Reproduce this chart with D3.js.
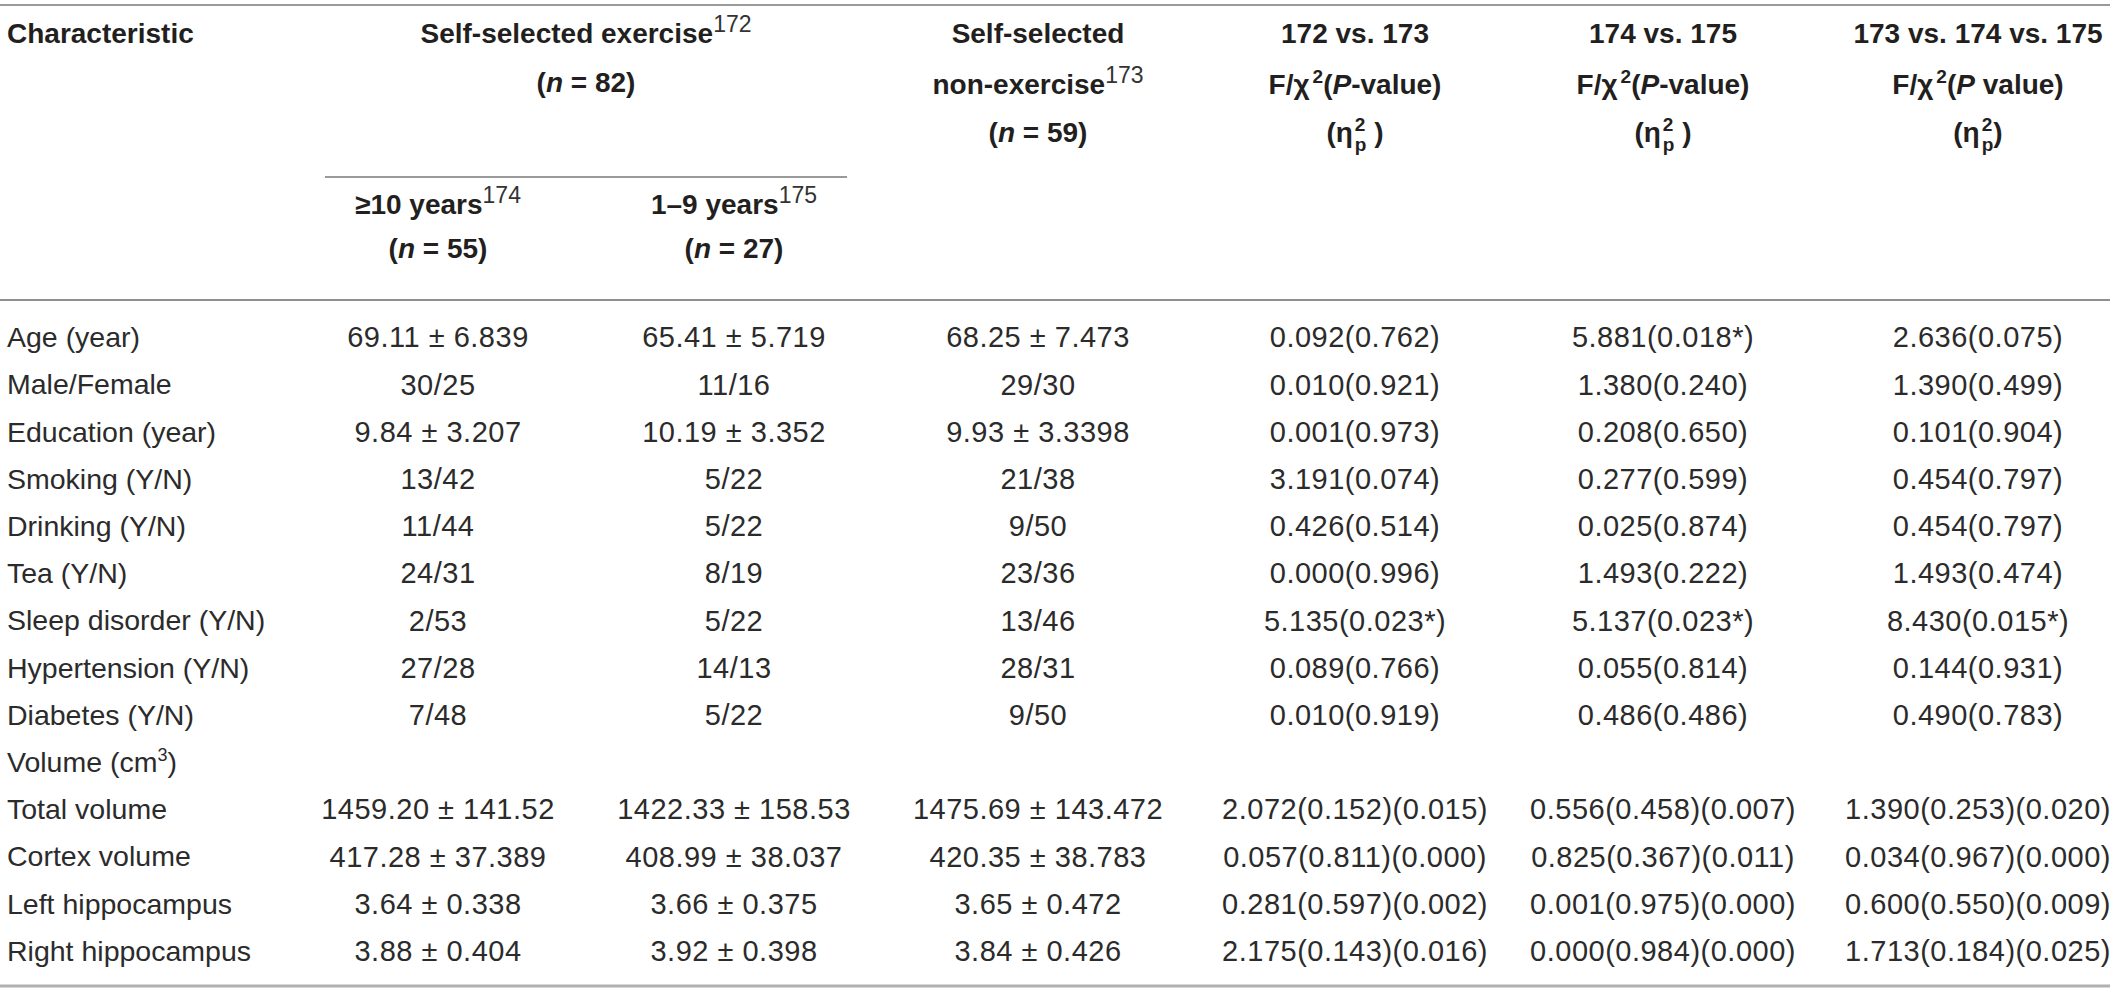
<!DOCTYPE html>
<html><head><meta charset="utf-8">
<script src="https://cdn.jsdelivr.net/npm/d3@7/dist/d3.min.js"></script>
<style>html,body{margin:0;padding:0;background:#fff}svg{display:block}</style>
</head><body>
<svg id="chart" width="2118" height="993"></svg>
<script>
// ---------- data ----------
const characteristics = ["Age (year)", "Male/Female", "Education (year)", "Smoking (Y/N)", "Drinking (Y/N)",
  "Tea (Y/N)", "Sleep disorder (Y/N)", "Hypertension (Y/N)", "Diabetes (Y/N)", "Volume (cm³)",
  "Total volume", "Cortex volume", "Left hippocampus", "Right hippocampus"];
const exercise10y = ["69.11 ± 6.839", "30/25", "9.84 ± 3.207", "13/42", "11/44", "24/31", "2/53", "27/28", "7/48", "",
  "1459.20 ± 141.52", "417.28 ± 37.389", "3.64 ± 0.338", "3.88 ± 0.404"];
const exercise1to9y = ["65.41 ± 5.719", "11/16", "10.19 ± 3.352", "5/22", "5/22", "8/19", "5/22", "14/13", "5/22", "",
  "1422.33 ± 158.53", "408.99 ± 38.037", "3.66 ± 0.375", "3.92 ± 0.398"];
const nonExercise = ["68.25 ± 7.473", "29/30", "9.93 ± 3.3398", "21/38", "9/50", "23/36", "13/46", "28/31", "9/50", "",
  "1475.69 ± 143.472", "420.35 ± 38.783", "3.65 ± 0.472", "3.84 ± 0.426"];
const test172v173 = ["0.092(0.762)", "0.010(0.921)", "0.001(0.973)", "3.191(0.074)", "0.426(0.514)", "0.000(0.996)",
  "5.135(0.023*)", "0.089(0.766)", "0.010(0.919)", "", "2.072(0.152)(0.015)", "0.057(0.811)(0.000)",
  "0.281(0.597)(0.002)", "2.175(0.143)(0.016)"];
const test174v175 = ["5.881(0.018*)", "1.380(0.240)", "0.208(0.650)", "0.277(0.599)", "0.025(0.874)", "1.493(0.222)",
  "5.137(0.023*)", "0.055(0.814)", "0.486(0.486)", "", "0.556(0.458)(0.007)", "0.825(0.367)(0.011)",
  "0.001(0.975)(0.000)", "0.000(0.984)(0.000)"];
const test173v174v175 = ["2.636(0.075)", "1.390(0.499)", "0.101(0.904)", "0.454(0.797)", "0.454(0.797)", "1.493(0.474)",
  "8.430(0.015*)", "0.144(0.931)", "0.490(0.783)", "", "1.390(0.253)(0.020)", "0.034(0.967)(0.000)",
  "0.600(0.550)(0.009)", "1.713(0.184)(0.025)"];

const columnKeys = ["ex10", "ex19", "non", "t1", "t2", "t3"];
const columnValues = [exercise10y, exercise1to9y, nonExercise, test172v173, test174v175, test173v174v175];

// header labels: pieces [text, style]
const headCharacteristic = [["Characteristic", "b"]];
const headExercise = [[["Self-selected exercise", "b"], ["172", "sup"]], [["(", "b"], ["n", "bi"], [" = 82)", "b"]]];
const headEx10 = [[["≥10 years", "b"], ["174", "sup"]], [["(", "b"], ["n", "bi"], [" = 55)", "b"]]];
const headEx19 = [[["1–9 years", "b"], ["175", "sup"]], [["(", "b"], ["n", "bi"], [" = 27)", "b"]]];
const headNon = [[["Self-selected", "b"]], [["non-exercise", "b"], ["173", "sup"]], [["(", "b"], ["n", "bi"], [" = 59)", "b"]]];
const headT1 = [[["172 vs. 173", "b"]], [["F/χ", "b"], ["2", "bsup"], ["(", "b"], ["P", "bi"], ["-value)", "b"]], [["(η", "b"], ["2p", "eta"], [" )", "b"]]];
const headT2 = [[["174 vs. 175", "b"]], [["F/χ", "b"], ["2", "bsup"], ["(", "b"], ["P", "bi"], ["-value)", "b"]], [["(η", "b"], ["2p", "eta"], [" )", "b"]]];
const headT3 = [[["173 vs. 174 vs. 175", "b"]], [["F/χ", "b"], ["2", "bsup"], ["(", "b"], ["P", "bi"], [" value)", "b"]], [["(η", "b"], ["2p", "eta"], [")", "b"]]];

// ---------- layout ----------
const FONT = "'Liberation Sans', Arial, Helvetica, sans-serif";
const INK = "#231f20";
const BODY_INK = "#2b2b2b";
const svg = d3.select("#chart");

const x = d3.scaleOrdinal().domain(columnKeys).range([438, 734, 1038, 1355, 1663, 1978]);
const rowStep = 47.2;
const y = d3.scaleBand().domain(characteristics)
  .range([337 - rowStep / 2, 337 - rowStep / 2 + rowStep * characteristics.length]);

// rules
function rule(x1, x2, yy, color, w) {
  svg.append("line").attr("x1", x1).attr("x2", x2).attr("y1", yy).attr("y2", yy)
    .attr("stroke", color).attr("stroke-width", w);
}
rule(0, 2110, 5, "#9a9a9a", 2);
rule(325, 847, 177, "#9a9a9a", 2);
rule(0, 2110, 300, "#6b6b6b", 1.6);
rule(0, 2110, 986, "#b0b0b0", 3);

// rich header text (sup/sub handled with relative dy, no empty tspans)
function rich(cx, cy, pieces, anchor) {
  const t = svg.append("text").attr("x", cx).attr("y", cy).attr("dy", "0.36em")
    .attr("text-anchor", anchor || "middle").attr("font-family", FONT)
    .attr("font-size", 28).attr("fill", INK);
  let pending = 0; // baseline offset to undo on next piece
  pieces.forEach(([txt, st]) => {
    if (st === "sup") {
      t.append("tspan").attr("font-weight", "normal").attr("font-size", 23).attr("fill", "#333")
        .attr("dy", pending - 11).text(txt);
      pending = 11;
    } else if (st === "bsup") {
      t.append("tspan").attr("font-weight", "bold").attr("font-size", 19)
        .attr("dx", 3).attr("dy", pending - 11).text(txt);
      pending = 11;
    } else if (st === "eta") {
      const w2 = 0.556 * 19;
      t.append("tspan").attr("font-weight", "bold").attr("font-size", 19)
        .attr("dx", 2).attr("dy", pending - 11).text(txt[0]);
      t.append("tspan").attr("font-weight", "bold").attr("font-size", 19)
        .attr("dx", -w2).attr("dy", 20).text(txt[1]);
      pending = -9;
    } else {
      const sp = t.append("tspan").attr("font-weight", "bold").attr("dy", pending).text(txt);
      if (st === "bi") sp.attr("font-style", "italic");
      pending = 0;
    }
  });
  return t;
}

rich(7, 43, headCharacteristic, "start");
headExercise.forEach((ln, i) => rich(586, [43, 92][i], ln));
headEx10.forEach((ln, i) => rich(x("ex10"), [214, 258][i], ln));
headEx19.forEach((ln, i) => rich(x("ex19"), [214, 258][i], ln));
const hy = [43, 94, 142];
headNon.forEach((ln, i) => rich(x("non"), hy[i], ln));
headT1.forEach((ln, i) => rich(x("t1"), hy[i], ln));
headT2.forEach((ln, i) => rich(x("t2"), hy[i], ln));
headT3.forEach((ln, i) => rich(x("t3"), hy[i], ln));

// body rows
const rows = svg.append("g").attr("font-family", FONT).attr("fill", BODY_INK);
characteristics.forEach((label, i) => {
  const cy = y(label) + y.bandwidth() / 2;
  const lt = rows.append("text").attr("x", 7).attr("y", cy).attr("dy", "0.36em").attr("font-size", 28.5);
  if (label.includes("³")) {
    const [a, b] = label.split("³");
    lt.append("tspan").text(a);
    lt.append("tspan").attr("font-size", 18).attr("dy", -11).text("3");
    lt.append("tspan").attr("dy", 11).text(b);
  } else lt.text(label);
  columnKeys.forEach((k, j) => {
    const v = columnValues[j][i];
    if (!v) return;
    rows.append("text").attr("x", x(k)).attr("y", cy).attr("dy", "0.36em")
      .attr("font-size", 29).attr("letter-spacing", 0.5)
      .attr("text-anchor", "middle").text(v);
  });
});
</script>
</body></html>
